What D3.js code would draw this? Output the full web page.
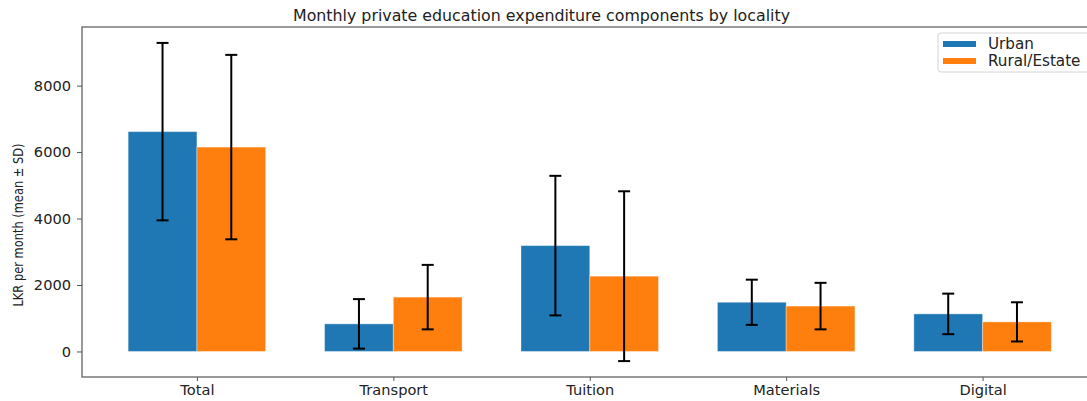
<!DOCTYPE html>
<html>
<head>
<meta charset="utf-8">
<script src="https://cdn.jsdelivr.net/npm/d3@7"></script>
<style>
  html, body { margin: 0; padding: 0; background: #fff; }
  svg { display: block; }
  text { font-family: "DejaVu Sans", sans-serif; fill: #222; }
</style>
</head>
<body>
<svg id="chart" width="1087" height="401"></svg>
<script>
// Expenditure components (LKR per month)
const categories = ["Total", "Transport", "Tuition", "Materials", "Digital"];
const seriesNames = ["Urban", "Rural/Estate"];
const urbanMean = [6615, 830, 3185, 1480, 1130];
const urbanSD   = [2670, 745, 2100, 680, 610];
const ruralMean = [6150, 1635, 2265, 1365, 890];
const ruralSD   = [2775, 970, 2555, 700, 590];
const yTicks = [0, 2000, 4000, 6000, 8000];
const colors = ["#1f77b4", "#ff7f0e"];

const series = [
  { name: seriesNames[0], mean: urbanMean, sd: urbanSD, color: colors[0], offset: -0.5 },
  { name: seriesNames[1], mean: ruralMean, sd: ruralSD, color: colors[1], offset: 0.5 }
];

const svg = d3.select("#chart");
const plot = { left: 82, right: 1097.5, top: 27, bottom: 377 };
const barW = 0.35;
const tickFont = 14.6;

// x: category index with bar-group padding
const xMin = -barW, xMax = categories.length - 1 + barW;
const xPad = (xMax - xMin) * 0.05;
const x = d3.scaleLinear().domain([xMin - xPad, xMax + xPad]).range([plot.left, plot.right]);

// y: from error-bar extent with 5% padding
const lows = series.flatMap(s => s.mean.map((m, i) => m - s.sd[i]));
const highs = series.flatMap(s => s.mean.map((m, i) => m + s.sd[i]));
const yLo = Math.min(0, d3.min(lows)), yHi = d3.max(highs);
const yPad = (yHi - yLo) * 0.05;
const y = d3.scaleLinear().domain([yLo - yPad, yHi + yPad]).range([plot.bottom, plot.top]);

// Bars
series.forEach(s => {
  svg.append("g").selectAll("rect")
    .data(s.mean)
    .join("rect")
    .attr("x", (d, i) => x(i + s.offset * barW - barW / 2))
    .attr("width", x(barW) - x(0))
    .attr("y", d => y(Math.max(0, d)))
    .attr("height", d => Math.abs(y(0) - y(d)))
    .attr("fill", s.color)
    .attr("stroke", "#ffffff")
    .attr("stroke-opacity", 0.35)
    .attr("stroke-width", 1);
});

// Error bars (mean ± SD)
series.forEach(s => {
  const g = svg.append("g").attr("stroke", "#000").attr("stroke-width", 2);
  s.mean.forEach((m, i) => {
    const cx = x(i + s.offset * barW);
    const top = y(m + s.sd[i]), bot = y(m - s.sd[i]);
    g.append("line").attr("x1", cx).attr("x2", cx).attr("y1", top).attr("y2", bot);
    g.append("line").attr("x1", cx - 6).attr("x2", cx + 6).attr("y1", top).attr("y2", top);
    g.append("line").attr("x1", cx - 6).attr("x2", cx + 6).attr("y1", bot).attr("y2", bot);
  });
});

// Axes
const yAxis = d3.axisLeft(y).tickValues(yTicks).tickSize(5).tickPadding(6).tickFormat(d3.format("d"));
const yg = svg.append("g").attr("transform", `translate(${plot.left},0)`).call(yAxis);
yg.select(".domain").remove();
yg.selectAll("text").attr("font-size", tickFont).attr("font-family", "DejaVu Sans").attr("fill", "#222");
yg.selectAll("line").attr("stroke", "#555");

const xAxis = d3.axisBottom(x).tickValues(d3.range(categories.length))
  .tickFormat(i => categories[i]).tickSize(4).tickPadding(4);
const xg = svg.append("g").attr("transform", `translate(0,${plot.bottom})`).call(xAxis);
xg.select(".domain").remove();
xg.selectAll("text").attr("font-size", tickFont).attr("font-family", "DejaVu Sans").attr("fill", "#222");
xg.selectAll("line").attr("stroke", "#555");

// Frame
svg.append("rect")
  .attr("x", plot.left).attr("y", plot.top)
  .attr("width", plot.right - plot.left).attr("height", plot.bottom - plot.top)
  .attr("fill", "none").attr("stroke", "#555").attr("stroke-width", 1.2);

// Title
svg.append("text")
  .attr("x", 541.5).attr("y", 21)
  .attr("text-anchor", "middle")
  .attr("font-size", 15)
  .attr("textLength", 497).attr("lengthAdjust", "spacingAndGlyphs")
  .text("Monthly private education expenditure components by locality");

// Y label
svg.append("text")
  .attr("transform", `translate(23,${(plot.top + plot.bottom) / 2 + 23}) rotate(-90)`)
  .attr("text-anchor", "middle")
  .attr("font-size", 14.5)
  .attr("textLength", 163).attr("lengthAdjust", "spacingAndGlyphs")
  .text("LKR per month (mean ± SD)");

// Legend
const lg = svg.append("g").attr("transform", "translate(938,33)");
lg.append("rect").attr("width", 152).attr("height", 39).attr("rx", 3)
  .attr("fill", "#fff").attr("fill-opacity", 0.85)
  .attr("stroke", "#d4d4d4").attr("stroke-width", 1);
series.forEach((s, k) => {
  const yy = 11 + k * 17;
  lg.append("rect").attr("x", 5).attr("y", yy - 3).attr("width", 33).attr("height", 6).attr("fill", s.color);
  lg.append("text").attr("x", 50).attr("y", yy).attr("dy", "0.35em")
    .attr("font-size", 15.2).text(s.name);
});
</script>
</body>
</html>
